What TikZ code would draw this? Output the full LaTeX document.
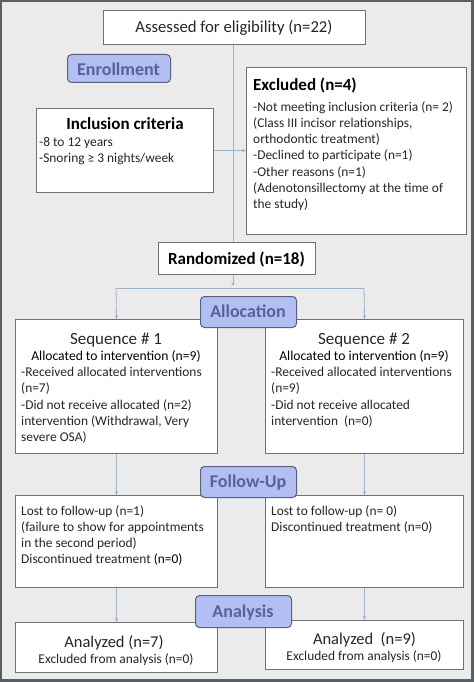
\documentclass[tikz,border=0pt]{standalone}
\usepackage{fontspec}
\setmainfont{Carlito}
\usetikzlibrary{arrows.meta}
\definecolor{bgc}{HTML}{EBEBEB}
\definecolor{framec}{HTML}{5A5F66}
\definecolor{boxc}{HTML}{707070}
\definecolor{stfill}{HTML}{B3BFF2}
\definecolor{stdraw}{HTML}{5A6080}
\definecolor{sttext}{HTML}{5263A0}
\definecolor{connc}{HTML}{9FB2CC}
\definecolor{txtc}{HTML}{262626}
\newcommand{\fl}{\rule{0pt}{10pt}}
\tikzset{
  box/.style={draw=boxc, line width=1pt, fill=white, anchor=north west, inner sep=0pt},
  stage/.style={draw=stdraw, line width=1pt, fill=stfill, rounded corners=4pt, anchor=north west, inner sep=0pt},
  stagetxt/.style={text=sttext, font=\fontsize{18}{21}\selectfont\bfseries, anchor=base, inner sep=0pt},
  body/.style={text=txtc, font=\fontsize{13.4}{16.2}\selectfont, align=left, anchor=north west, inner sep=0pt},
  title/.style={text=black, font=\fontsize{17}{20}\selectfont\bfseries, anchor=base, inner sep=0pt},
  plaintxt/.style={text=txtc, anchor=base, inner sep=0pt},
  conn/.style={draw=connc, line width=0.8pt, -{Stealth[length=4pt,width=3.5pt]}},
  plain/.style={draw=connc, line width=0.8pt},
}
\begin{document}
\begin{tikzpicture}[x=1pt,y=-1pt]
\useasboundingbox (0,0) rectangle (474,682);
\fill[framec] (0,0) rectangle (474,682);
\fill[bgc] (2,2) rectangle (471,679);

% boxes
\node[box, minimum width=262pt, minimum height=34pt] (assess) at (103,10) {};
\node[box, minimum width=177pt, minimum height=84pt] (incl) at (36,108) {};
\node[box, minimum width=220pt, minimum height=167pt] (excl) at (246,67) {};
\node[box, minimum width=157pt, minimum height=32pt] (rand) at (158,242) {};
\node[box, minimum width=202pt, minimum height=134pt] (seqa) at (15,319) {};
\node[box, minimum width=198pt, minimum height=134pt] (seqb) at (265,319) {};
\node[box, minimum width=202pt, minimum height=92pt] (fola) at (15,495) {};
\node[box, minimum width=198pt, minimum height=92pt] (folb) at (265,495) {};
\node[box, minimum width=202pt, minimum height=50pt] (anaa) at (15,622) {};
\node[box, minimum width=198pt, minimum height=49pt] (anab) at (265,620) {};

% connectors
\coordinate (vx) at (233,0);
\coordinate (split) at (233,286);
\coordinate (hl) at (116,288);
\coordinate (hr) at (364,288);
\draw[plain] (assess.south -| vx) -- (rand.north -| vx);
\draw[conn] (incl.east) -- (excl.west |- incl.east);
\draw[conn] (rand.south -| vx) -- (split);
\draw[plain] (hl) -- (hr);
\draw[conn] (hl) -- (seqa.north);
\draw[conn] (hr) -- (seqb.north);
\draw[conn] (seqa.south) -- (fola.north);
\draw[conn] (seqb.south) -- (folb.north);
\draw[conn] (fola.south) -- (anaa.north);
\draw[conn] (folb.south) -- (anab.north);

% stage labels
\node[stage, minimum width=103pt, minimum height=28pt] (enr) at (67,54) {};
\node[stage, minimum width=96pt, minimum height=31pt] (alloc) at (200,296) {};
\node[stage, minimum width=96pt, minimum height=31pt] (fup) at (200,466) {};
\node[stage, minimum width=96pt, minimum height=32pt] (anal) at (195,595) {};
\node[stagetxt] (enrt) at (118.5,76) {Enrollment};
\node[stagetxt] (alloct) at (248,317) {Allocation};
\node[stagetxt] (fupt) at (248,487) {Follow-Up};
\node[stagetxt] (analt) at (243,617) {Analysis};

% texts
\node[plaintxt, font=\fontsize{16.7}{20}\selectfont] (assesst) at (234,33) {Assessed for eligibility (n=22)};
\node[title] (inclt) at (125,129) {Inclusion criteria};
\node[body] (inclb) at (39,136) {\fl-8 to 12 years\\-Snoring ≥ 3 nights/week};
\node[title, anchor=base west] (exclt) at (253,91) {Excluded (n=4)};
\node[body] (exclb) at (253,101) {\fl-Not meeting inclusion criteria (n= 2)\\(Class III incisor relationships,\\orthodontic treatment)\\-Declined to participate (n=1)\\-Other reasons (n=1)\\(Adenotonsillectomy at the time of\\the study)};
\node[title] (randt) at (236.5,264) {Randomized (n=18)};

\node[plaintxt, font=\fontsize{17}{20}\selectfont] (seqat) at (116,344) {Sequence \# 1};
\node[plaintxt, text=black, font=\fontsize{13.6}{16}\selectfont] (seqas) at (116,360) {Allocated to intervention (n=9)};
\node[body] (seqab) at (21,366.5) {\fl-Received allocated interventions\\(n=7)\\-Did not receive allocated (n=2)\\intervention (Withdrawal, Very\\severe OSA)};
\node[plaintxt, font=\fontsize{17}{20}\selectfont] (seqbt) at (364,344) {Sequence \# 2};
\node[plaintxt, text=black, font=\fontsize{13.6}{16}\selectfont] (seqbs) at (364,360) {Allocated to intervention (n=9)};
\node[body] (seqbb) at (271,366.5) {\fl-Received allocated interventions\\(n=9)\\-Did not receive allocated\\intervention\ \ (n=0)};

\node[body] (folat) at (21,505) {\fl Lost to follow-up (n=1)\\(failure to show for appointments\\in the second period)\\Discontinued treatment {\color{black}(n=0)}};
\node[body] (folbt) at (271,505) {\fl Lost to follow-up (n= 0)\\Discontinued treatment (n=0)};

\node[plaintxt, font=\fontsize{16.5}{20}\selectfont] (anaat) at (114,647) {Analyzed (n=7)};
\node[plaintxt, font=\fontsize{13.4}{15}\selectfont] (anaas) at (116,663) {Excluded from analysis (n=0)};
\node[plaintxt, font=\fontsize{16.5}{20}\selectfont] (anabt) at (364.5,644) {Analyzed\ \ (n=9)};
\node[plaintxt, font=\fontsize{13.4}{15}\selectfont] (anabs) at (364,660) {Excluded from analysis (n=0)};
\end{tikzpicture}
\end{document}
